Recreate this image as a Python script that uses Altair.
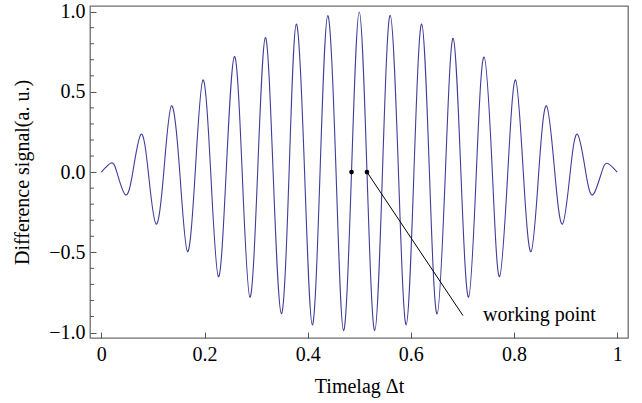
import altair as alt
import pandas as pd

# Local maxima / minima of the difference signal: time lag and amplitude
extremum_t = [0.0188, 0.0466, 0.077, 0.106, 0.136, 0.167, 0.197, 0.227, 0.258, 0.288,
              0.318, 0.349, 0.378, 0.409, 0.439, 0.4696, 0.500, 0.530, 0.560, 0.591,
              0.621, 0.651, 0.682, 0.712, 0.742, 0.772, 0.803, 0.833, 0.863, 0.894,
              0.923, 0.953, 0.982]
extremum_v = [0.056, -0.141, 0.236, -0.324, 0.413, -0.496, 0.574, -0.652, 0.720, -0.780,
              0.838, -0.882, 0.923, -0.952, 0.975, -0.988, 0.998, -0.988, 0.977, -0.952,
              0.923, -0.884, 0.834, -0.780, 0.717, -0.652, 0.574, -0.496, 0.413, -0.324,
              0.236, -0.141, 0.054]

# Zero crossings of the signal
zero_t = [0.0, 0.030, 0.061, 0.091, 0.121, 0.152, 0.182, 0.212, 0.242, 0.273,
          0.303, 0.333, 0.364, 0.394, 0.424, 0.455, 0.485, 0.515, 0.545, 0.576,
          0.606, 0.636, 0.667, 0.697, 0.727, 0.758, 0.788, 0.818, 0.848, 0.879,
          0.909, 0.939, 0.970, 1.0]

# Working points on the central fringe
working_t = [0.485, 0.515]
working_v = [0.0, 0.0]

# Annotation pointer and label
pointer_start = (0.515, 0.0)
pointer_end = (0.701, -0.894)
label_pos = (0.740, -0.93)
label_text = "working point"

x_ticks = [0, 0.2, 0.4, 0.6, 0.8, 1]
y_ticks = [-1.0, -0.5, 0.0, 0.5, 1.0]
y_minor = [-0.9, -0.8, -0.7, -0.6, -0.4, -0.3, -0.2, -0.1,
           0.1, 0.2, 0.3, 0.4, 0.6, 0.7, 0.8, 0.9]

FONT = "Liberation Serif"
FS = 20
CURVE = "#3f3d99"
TICK = "#555555"

signal = pd.DataFrame({
    "t": extremum_t + zero_t,
    "v": extremum_v + [0.0] * len(zero_t),
}).sort_values("t")

x_scale = alt.Scale(domain=[-0.022, 1.021], nice=False, zero=False)
y_scale = alt.Scale(domain=[-1.034, 1.035], nice=False, zero=False)

# Ticks point into the frame: the axis is pulled inside by its tick length
x_axis = alt.Axis(values=x_ticks, format="~g", offset=-6, tickSize=6,
                  domain=False, labelPadding=6, title="Timelag Δt",
                  titlePadding=12)
y_axis = alt.Axis(values=y_ticks, format=".1f", offset=-6, tickSize=6,
                  domain=False, labelPadding=5,
                  title="Difference signal(a. u.)", titlePadding=16)

X = alt.X("t:Q", scale=x_scale, axis=x_axis)
Y = alt.Y("v:Q", scale=y_scale, axis=y_axis)

curve = alt.Chart(signal).mark_line(
    interpolate="natural", color=CURVE, strokeWidth=1.1
).encode(x=X, y=Y)

minor = alt.Chart(pd.DataFrame({"v": y_minor})).mark_rule(
    color=TICK, strokeWidth=1
).encode(
    y=Y,
    x=alt.value(0),
    x2=alt.value(4),
)

points = alt.Chart(pd.DataFrame({"t": working_t, "v": working_v})).mark_circle(
    color="black", opacity=1, size=22
).encode(x=X, y=Y)

pointer = alt.Chart(pd.DataFrame({
    "t": [pointer_start[0]], "v": [pointer_start[1]],
    "t2": [pointer_end[0]], "v2": [pointer_end[1]],
})).mark_rule(color="black", strokeWidth=1).encode(
    x=X, y=Y, x2="t2:Q", y2="v2:Q",
)

label = alt.Chart(pd.DataFrame({
    "t": [label_pos[0]], "v": [label_pos[1]], "txt": [label_text]
})).mark_text(
    align="left", baseline="alphabetic", font=FONT, fontSize=FS, color="black"
).encode(x=X, y=Y, text="txt:N")

chart = alt.layer(curve, minor, points, pointer, label).properties(
    width=538,
    height=332,
    padding={"left": 90, "top": 6, "right": 14, "bottom": 65},
    autosize=alt.AutoSizeParams(type="none"),
    background="white",
).configure_view(
    stroke="#6e6e6e", strokeWidth=1.3
).configure_axis(
    grid=False,
    labelFont=FONT, titleFont=FONT,
    labelFontSize=FS, titleFontSize=FS,
    titleFontWeight="normal",
    labelColor="black", titleColor="black",
    tickColor=TICK, tickWidth=1,
)

chart.save("out.html", embed_options={"renderer": "svg", "actions": False})
